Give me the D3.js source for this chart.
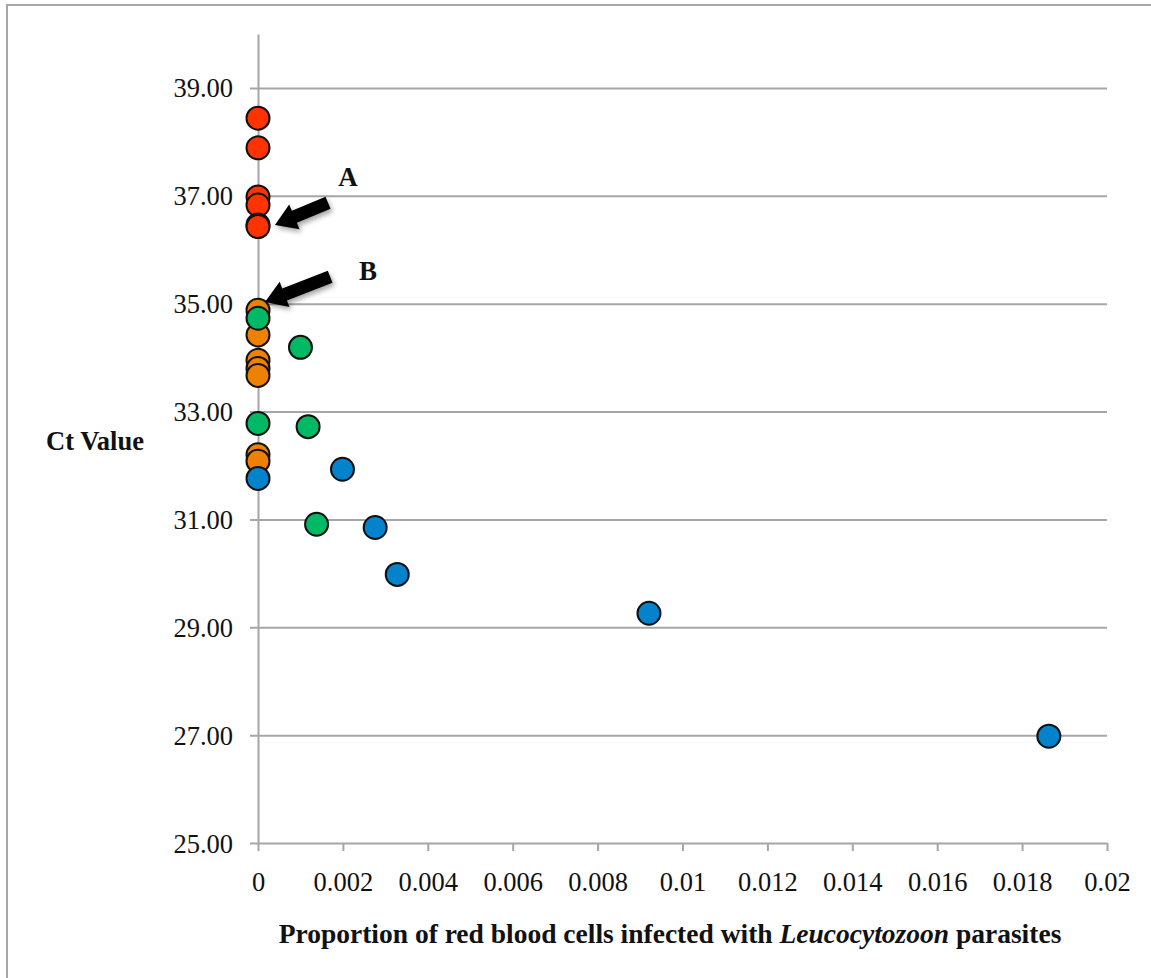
<!DOCTYPE html>
<html>
<head>
<meta charset="utf-8">
<script src="https://cdn.jsdelivr.net/npm/d3@7"></script>
<style>
    html, body { margin: 0; padding: 0; background: #ffffff; }
    #chart { width: 1151px; height: 978px; }
    text { font-family: "Liberation Serif", "Times New Roman", serif; fill: #111; }
</style>
</head>
<body>
<div id="chart"></div>
<script>
// Ct value vs proportion of infected red blood cells

const xTicks = [0, 0.002, 0.004, 0.006, 0.008, 0.01, 0.012, 0.014, 0.016, 0.018, 0.02];
const xTickLabels = ["0", "0.002", "0.004", "0.006", "0.008", "0.01", "0.012", "0.014", "0.016", "0.018", "0.02"];
const yTicks = [25, 27, 29, 31, 33, 35, 37, 39];
const yTickLabels = ["25.00", "27.00", "29.00", "31.00", "33.00", "35.00", "37.00", "39.00"];

const redX = [0, 0, 0, 0, 0, 0];
const redY = [38.44, 37.89, 36.98, 36.83, 36.46, 36.43];
const orangeX = [0, 0, 0, 0, 0, 0, 0];
const orangeY = [34.88, 34.42, 33.95, 33.80, 33.67, 32.20, 32.08];
const greenX = [0, 0.001, 0, 0.00118, 0.00138];
const greenY = [34.73, 34.19, 32.78, 32.72, 30.91];
const blueX = [0, 0.00199, 0.00276, 0.00328, 0.00921, 0.01863];
const blueY = [31.76, 31.93, 30.85, 29.98, 29.26, 26.98];

const seriesColors = ["#ff3300", "#ee8100", "#00b964", "#0383cc"];

const annotations = [
    { label: "A", tail: [0.00165, 36.87], tip: [0.0004, 36.46], text: [0.00212, 37.18] },
    { label: "B", tail: [0.0017, 35.5], tip: [0.000165, 35.03], text: [0.00259, 35.44] }
];

const width = 1151;
const height = 978;
const margin = { top: 34, right: 44, bottom: 135, left: 258 };

const svg = d3.select("#chart").append("svg")
    .attr("width", width)
    .attr("height", height);

const defs = svg.append("defs");
defs.append("filter")
    .attr("id", "arrow-shadow")
    .attr("x", "-30%").attr("y", "-30%")
    .attr("width", "160%").attr("height", "160%")
    .append("feDropShadow")
    .attr("dx", 2)
    .attr("dy", 3)
    .attr("stdDeviation", 2.5)
    .attr("flood-color", "#000")
    .attr("flood-opacity", 0.35);

// outer frame (only the top and left edges are visible)
svg.append("rect")
    .attr("x", 7)
    .attr("y", 5)
    .attr("width", width + 20)
    .attr("height", height + 20)
    .attr("fill", "none")
    .attr("stroke", "#a6a6a6")
    .attr("stroke-width", 2);

const x = d3.scaleLinear()
    .domain([0, 0.02])
    .range([margin.left, width - margin.right]);

const y = d3.scaleLinear()
    .domain([25, 40])
    .range([height - margin.bottom, margin.top]);

// horizontal grid lines + y axis
const yAxis = svg.append("g")
    .attr("transform", `translate(${margin.left},0)`)
    .call(d3.axisLeft(y)
        .tickValues(yTicks)
        .tickFormat((d, i) => yTickLabels[i])
        .tickSizeInner(8)
        .tickSizeOuter(0)
        .tickPadding(17));

yAxis.select(".domain").attr("stroke", "#a6a6a6").attr("stroke-width", 2);
yAxis.selectAll(".tick line")
    .attr("stroke", "#a6a6a6")
    .attr("stroke-width", 2)
    .attr("x1", d => d === 25 ? 0 : x(0.02) - margin.left);
yAxis.selectAll(".tick text")
    .attr("font-size", 26.5)
    .attr("font-family", "Liberation Serif")
    .attr("fill", "#111")
    .attr("dy", "0.34em");

// x axis
const xAxis = svg.append("g")
    .attr("transform", `translate(0,${y(25)})`)
    .call(d3.axisBottom(x)
        .tickValues(xTicks)
        .tickFormat((d, i) => xTickLabels[i])
        .tickSizeInner(8)
        .tickSizeOuter(0)
        .tickPadding(21));

xAxis.select(".domain").attr("stroke", "#a6a6a6").attr("stroke-width", 2);
xAxis.selectAll(".tick line").attr("stroke", "#a6a6a6").attr("stroke-width", 2);
xAxis.selectAll(".tick text")
    .attr("font-size", 26.5)
    .attr("font-family", "Liberation Serif")
    .attr("fill", "#111");

// axis titles
const xTitle = svg.append("text")
    .attr("x", 670)
    .attr("y", 943)
    .attr("text-anchor", "middle")
    .attr("font-size", 27.5)
    .attr("font-weight", "bold");
xTitle.append("tspan").text("Proportion of red blood cells infected with ");
xTitle.append("tspan").attr("font-style", "italic").text("Leucocytozoon");
xTitle.append("tspan").text(" parasites");

svg.append("text")
    .attr("x", 95)
    .attr("y", 450)
    .attr("text-anchor", "middle")
    .attr("font-size", 26.5)
    .attr("font-weight", "bold")
    .text("Ct Value");

// points
const series = [
    { xs: redX, ys: redY, color: seriesColors[0] },
    { xs: orangeX, ys: orangeY, color: seriesColors[1] },
    { xs: greenX, ys: greenY, color: seriesColors[2] },
    { xs: blueX, ys: blueY, color: seriesColors[3] }
];

const pointLayer = svg.append("g").attr("class", "points");
series.forEach(s => {
    const pts = s.xs.map((v, i) => ({ x: v, y: s.ys[i] }));
    pointLayer.append("g")
        .selectAll("circle")
        .data(pts)
        .join("circle")
        .attr("cx", d => x(d.x))
        .attr("cy", d => y(d.y))
        .attr("r", 11.5)
        .attr("fill", s.color)
        .attr("stroke", "#111")
        .attr("stroke-width", 2);
});

// arrows with labels
function arrowPath(tail, tip) {
    const x0 = x(tail[0]), y0 = y(tail[1]);
    const x1 = x(tip[0]), y1 = y(tip[1]);
    const dx = x1 - x0, dy = y1 - y0;
    const len = Math.hypot(dx, dy);
    const ux = dx / len, uy = dy / len;
    const nx = -uy, ny = ux;
    const shaft = 6.5, head = 13.5, headLen = 21;
    const bx = x1 - ux * headLen, by = y1 - uy * headLen;
    const p = [
        [x0 + nx * shaft, y0 + ny * shaft],
        [bx + nx * shaft, by + ny * shaft],
        [bx + nx * head, by + ny * head],
        [x1, y1],
        [bx - nx * head, by - ny * head],
        [bx - nx * shaft, by - ny * shaft],
        [x0 - nx * shaft, y0 - ny * shaft]
    ];
    return "M" + p.map(q => q.join(",")).join("L") + "Z";
}

const annLayer = svg.append("g").attr("class", "annotations");
annotations.forEach(a => {
    annLayer.append("path")
        .attr("d", arrowPath(a.tail, a.tip))
        .attr("fill", "#000")
        .attr("filter", "url(#arrow-shadow)");
    annLayer.append("text")
        .attr("x", x(a.text[0]))
        .attr("y", y(a.text[1]))
        .attr("text-anchor", "middle")
        .attr("font-size", 27)
        .attr("font-weight", "bold")
        .text(a.label);
});
</script>
</body>
</html>
